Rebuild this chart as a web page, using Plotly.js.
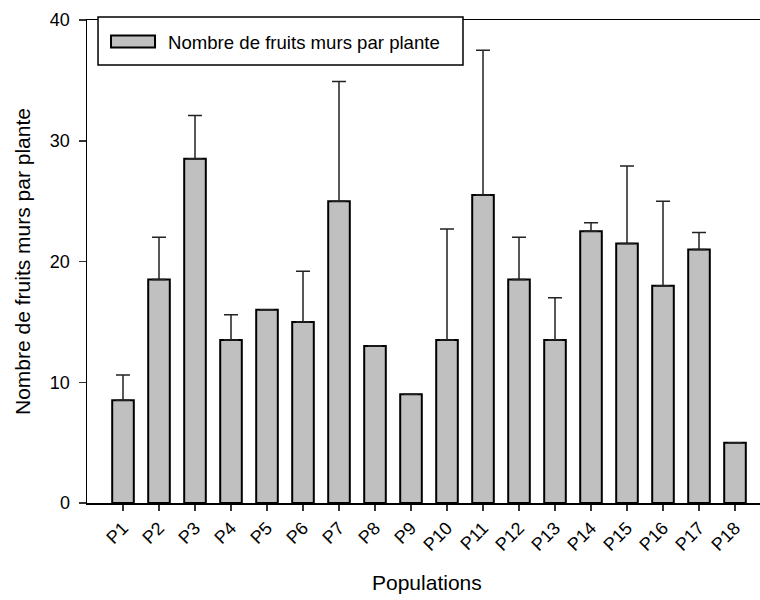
<!DOCTYPE html>
<html>
<head>
<meta charset="utf-8">
<script src="https://cdn.plot.ly/plotly-3.0.1.min.js"></script>
<style>
html,body{margin:0;padding:0;overflow:hidden;background:#fff;width:760px;height:600px;}
#chart{width:800px;height:600px;}
</style>
</head>
<body>
<div id="chart"></div>
<script>
var categories = ["P1","P2","P3","P4","P5","P6","P7","P8","P9","P10","P11","P12","P13","P14","P15","P16","P17","P18"];
var means = [8.5, 18.5, 28.5, 13.5, 16.0, 15.0, 25.0, 13.0, 9.0, 13.5, 25.5, 18.5, 13.5, 22.5, 21.5, 18.0, 21.0, 5.0];
var errPlus = [2.1, 3.5, 3.6, 2.1, 0, 4.2, 9.9, 0, 0, 9.2, 12.0, 3.5, 3.5, 0.7, 6.4, 7.0, 1.4, 0];
var yTicks = [0, 10, 20, 30, 40];
var seriesName = "Nombre de fruits murs par plante";
var xTitle = "Populations";
var yTitle = "Nombre de fruits murs par plante";

var font = "Liberation Sans, Arial, sans-serif";

var trace = {
  type: "bar",
  x: categories,
  y: means,
  name: seriesName,
  width: 0.6,
  marker: {color: "#c0c0c0", line: {color: "#000", width: 2}},
  error_y: {type: "data", symmetric: false, array: errPlus, arrayminus: errPlus.map(function(){return 0;}),
            color: "#222", thickness: 1.5, width: 7, visible: true},
  showlegend: true
};

var layout = {
  width: 800, height: 600,
  margin: {l: 87, r: 11, t: 20, b: 97},
  paper_bgcolor: "#fff", plot_bgcolor: "#fff",
  font: {family: font, color: "#000"},
  showlegend: true,
  legend: {x: 0.0157, y: 0.9545, xanchor: "left", yanchor: "middle",
           borderwidth: 0, bgcolor: "rgba(0,0,0,0)",
           font: {family: font, size: 18.6, color: "#000"},
           itemwidth: 60},
  shapes: [{type: "rect", xref: "paper", yref: "paper",
            x0: 0.0157, x1: 0.5356, y0: 0.9068, y1: 1.0062,
            line: {color: "#000", width: 1.5}, fillcolor: "#fff", layer: "above"}],
  annotations: [{text: xTitle, xref: "paper", yref: "paper", x: 0.484, y: -0.1656,
                 xanchor: "center", yanchor: "middle", showarrow: false,
                 font: {family: font, size: 21, color: "#000"}}],
  xaxis: {
    range: [-1, 18.5],
    showline: true, linecolor: "#000", linewidth: 1.5, mirror: true,
    ticks: "outside", ticklen: 6, tickcolor: "#333", tickwidth: 1.5,
    tickangle: -45, tickfont: {family: font, size: 18},
    showgrid: false, zeroline: false
  },
  yaxis: {
    range: [0, 40],
    tickvals: yTicks,
    showline: true, linecolor: "#000", linewidth: 1.5,
    ticks: "outside", ticklen: 7, tickcolor: "#333", tickwidth: 1.5,
    tickfont: {family: font, size: 18}, ticklabelstandoff: 5,
    showgrid: false, zeroline: false,
    title: {text: yTitle, font: {family: font, size: 21}, standoff: 13}
  }
};

Plotly.newPlot("chart", [trace], layout, {displayModeBar: false, staticPlot: true}).then(function(gd){
  var pts = gd.querySelectorAll(".legend .legendpoints path");
  pts.forEach(function(p){
    p.setAttribute("d", "M-22,6H22V-6H-22Z");
  });
});
</script>
</body>
</html>
